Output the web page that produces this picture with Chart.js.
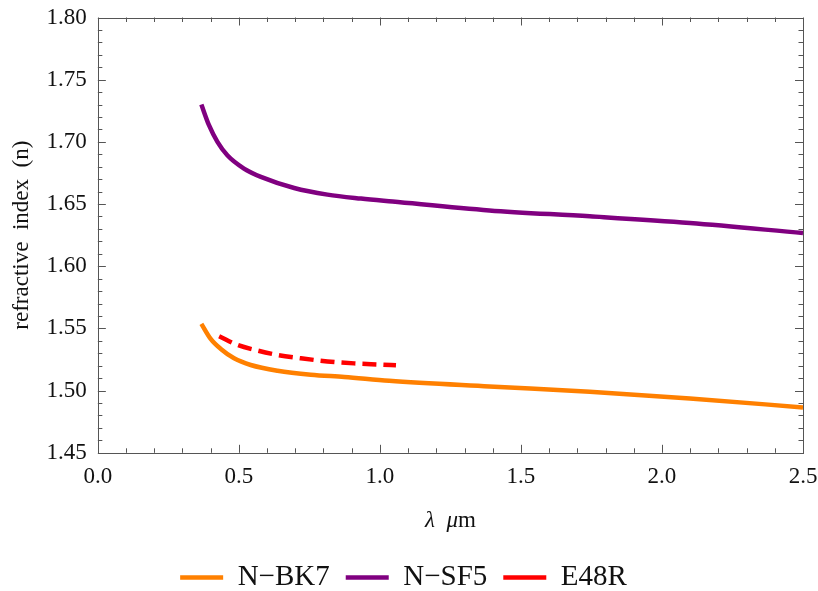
<!DOCTYPE html>
<html>
<head>
<meta charset="utf-8">
<script src="https://cdn.jsdelivr.net/npm/chart.js@4"></script>
<style>
  html, body { margin: 0; padding: 0; background: #fff; }
  #wrap { width: 818px; height: 591px; }
</style>
</head>
<body>
<div id="wrap"><canvas id="chart"></canvas></div>
<script>
// wavelength (um) and refractive index
const lambdaBK7 = [0.367, 0.400, 0.436, 0.483, 0.542, 0.637, 0.755, 0.874, 1.033, 1.388, 1.744, 2.099, 2.500];
const nBK7      = [1.5537, 1.5416, 1.5335, 1.5260, 1.5206, 1.5160, 1.5128, 1.5110, 1.5080, 1.5034, 1.4991, 1.4937, 1.4865];

const lambdaSF5 = [0.367, 0.394, 0.424, 0.459, 0.518, 0.578, 0.696, 0.814, 0.933, 1.045, 1.388, 1.744, 2.099, 2.500];
const nSF5      = [1.7300, 1.7134, 1.7000, 1.6892, 1.6785, 1.6718, 1.6629, 1.6576, 1.6544, 1.6520, 1.6449, 1.6401, 1.6347, 1.6267];

const lambdaE48R = [0.430, 0.495, 0.566, 0.637, 0.720, 0.814, 0.909, 1.004, 1.057];
const nE48R      = [1.5437, 1.5367, 1.5322, 1.5287, 1.5260, 1.5235, 1.5219, 1.5209, 1.5203];

const seriesNames = ['N\u2212BK7', 'N\u2212SF5', 'E48R'];
const seriesColors = ['#ff8000', '#800080', '#ff0000'];

const xMin = 0, xMax = 2.5, xMajor = 0.5, xMinor = 0.1;
const yMin = 1.45, yMax = 1.80, yMajor = 0.05, yMinor = 0.01;

const serif = "'Liberation Serif', 'DejaVu Serif', serif";
const xTitleSize = 23, xTitlePad = { top: 17, bottom: 12 };

function toPoints(xs, ys) {
  return xs.map((x, i) => ({ x, y: ys[i] }));
}

// Mathematica style frame: ticks pointing inward on all four sides
const frameTicks = {
  id: 'frameTicks',
  afterDatasetsDraw(chart) {
    const { ctx, chartArea: a, scales: { x, y } } = chart;
    ctx.save();
    ctx.strokeStyle = '#555';
    ctx.lineWidth = 1;
    ctx.strokeRect(Math.round(a.left) + 0.5, Math.round(a.top) + 0.5,
      Math.round(a.right - a.left), Math.round(a.bottom - a.top));
    ctx.beginPath();
    const nx = Math.round((xMax - xMin) / xMinor);
    for (let i = 0; i <= nx; i++) {
      const px = Math.round(x.getPixelForValue(xMin + i * xMinor)) + 0.5;
      const len = i % Math.round(xMajor / xMinor) === 0 ? 8 : 4.5;
      ctx.moveTo(px, a.bottom); ctx.lineTo(px, a.bottom - len);
      ctx.moveTo(px, a.top); ctx.lineTo(px, a.top + len);
    }
    const ny = Math.round((yMax - yMin) / yMinor);
    for (let i = 0; i <= ny; i++) {
      const py = Math.round(y.getPixelForValue(yMin + i * yMinor)) + 0.5;
      const len = i % Math.round(yMajor / yMinor) === 0 ? 8 : 4.5;
      ctx.moveTo(a.left, py); ctx.lineTo(a.left + len, py);
      ctx.moveTo(a.right, py); ctx.lineTo(a.right - len, py);
    }
    ctx.stroke();

    // x title with italic lambda and mu, upright m
    const parts = [['\u03bb', 'italic'], ['  ', 'normal'], ['\u03bc', 'italic'], ['m', 'normal']];
    const ty = x.bottom - xTitlePad.bottom - xTitleSize * 0.6;
    let total = 0;
    parts.forEach(([t, s]) => { ctx.font = `${s} ${xTitleSize}px ${serif}`; total += ctx.measureText(t).width; });
    let tx = (a.left + a.right) / 2 - total / 2;
    ctx.fillStyle = '#111';
    ctx.textBaseline = 'middle';
    ctx.textAlign = 'left';
    parts.forEach(([t, s]) => {
      ctx.font = `${s} ${xTitleSize}px ${serif}`;
      ctx.fillText(t, tx, ty);
      tx += ctx.measureText(t).width;
    });
    ctx.restore();
  }
};

Chart.defaults.font.family = serif;
Chart.defaults.color = '#222';

function lineSet(i, xs, ys, extra) {
  return Object.assign({
    label: seriesNames[i],
    data: toPoints(xs, ys),
    borderColor: seriesColors[i],
    backgroundColor: seriesColors[i],
    borderWidth: 4.5,
    pointRadius: 0,
    cubicInterpolationMode: 'monotone'
  }, extra || {});
}

// the built-in tick marks are invisible; their length only spaces the labels
const hiddenTicks = len => ({
  display: true,
  drawOnChartArea: false,
  drawTicks: true,
  tickLength: len,
  tickColor: 'rgba(0,0,0,0)'
});

new Chart(document.getElementById('chart'), {
  type: 'line',
  data: {
    datasets: [
      lineSet(0, lambdaBK7, nBK7),
      lineSet(1, lambdaSF5, nSF5),
      lineSet(2, lambdaE48R, nE48R, { borderDash: [14, 7] })
    ]
  },
  plugins: [frameTicks],
  options: {
    responsive: true,
    maintainAspectRatio: false,
    animation: false,
    layout: { padding: { top: 17.5, right: 15, left: 4, bottom: -11 } },
    plugins: {
      tooltip: { enabled: false },
      legend: {
        position: 'bottom',
        labels: {
          usePointStyle: true,
          pointStyle: 'line',
          pointStyleWidth: 43,
          padding: 16,
          color: '#111',
          font: { size: 29 }
        }
      }
    },
    scales: {
      x: {
        type: 'linear',
        min: xMin,
        max: xMax,
        grid: hiddenTicks(10),
        border: { display: false },
        ticks: {
          stepSize: xMajor,
          padding: 0,
          color: '#111',
          font: { size: 23 },
          maxRotation: 0,
          callback: v => v.toFixed(1)
        },
        title: {
          display: true,
          text: '\u03bb  \u03bcm',
          color: 'rgba(0,0,0,0)',
          font: { size: xTitleSize },
          padding: xTitlePad
        }
      },
      y: {
        type: 'linear',
        min: yMin,
        max: yMax,
        grid: hiddenTicks(11),
        border: { display: false },
        ticks: {
          stepSize: yMajor,
          padding: 0,
          color: '#111',
          font: { size: 23 },
          callback: v => v.toFixed(2)
        },
        title: {
          display: true,
          text: 'refractive  index  (n)',
          color: '#111',
          font: { size: 23 },
          padding: { top: 4, bottom: 11 }
        }
      }
    }
  }
});
</script>
</body>
</html>
